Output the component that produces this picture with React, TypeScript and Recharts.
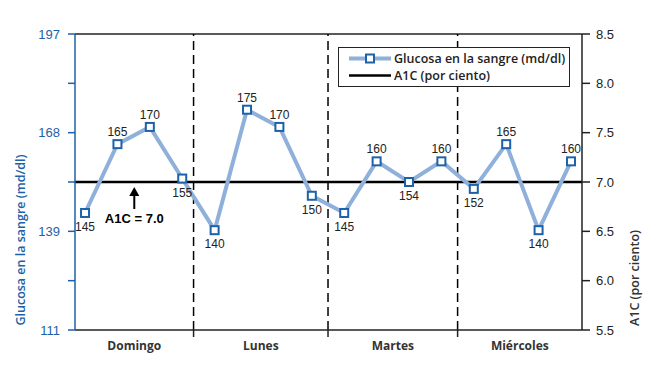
import {
  ComposedChart,
  Line,
  XAxis,
  YAxis,
  ReferenceLine,
  ReferenceDot,
  Legend,
  LabelList,
} from "recharts";

const days = ["Domingo", "Lunes", "Martes", "Miércoles"];
const glucose = [145, 165, 170, 155, 140, 175, 170, 150, 145, 160, 154, 160, 152, 165, 140, 160];
const a1cTarget = 7.0;
const leftTicks = [111, 125.33, 139.67, 154, 168.33, 182.67, 197];
const leftTickLabels = ["111", "", "139", "", "168", "", "197"];
const rightTicks = [5.5, 6.0, 6.5, 7.0, 7.5, 8.0, 8.5];
// day boundaries on the reading-index scale (outer two are the plot edges)
const dayBounds = [-0.31, 3.35, 7.5, 11.5, 15.34];
const labelSide = ["below", "above", "above", "below", "below", "above", "above", "below", "below", "above", "below", "above", "below", "above", "below", "above"];

const data = glucose.map((g, i) => ({ idx: i, glucose: g }));
const dividers = dayBounds.slice(1, -1);
const dayCenters = days.map((_, i) => (dayBounds[i] + dayBounds[i + 1]) / 2);
const xTicks = [...dayCenters, ...dividers].sort((a, b) => a - b);

const BLUE = "#1d62a8";
const LIGHT = "#8eb0da";
const INK = "#222";
const NUM_FONT = "'Liberation Sans', Arial, sans-serif";
const TXT_FONT = "'Open Sans', sans-serif";

const DayTick = (props: any) => {
  const { x, y, payload } = props;
  const i = dayCenters.indexOf(payload.value);
  if (i < 0) {
    return <line x1={x} x2={x} y1={y} y2={y + 7} stroke={INK} strokeWidth={1.5} />;
  }
  return (
    <text x={x} y={y + 20} textAnchor="middle" fontFamily={TXT_FONT} fontSize={12} fontWeight={700} fill="#333">
      {days[i]}
    </text>
  );
};

const SquareDot = (props: any) => {
  const { cx, cy, index } = props;
  return <rect key={index} x={cx - 4} y={cy - 4} width={8} height={8} fill="#fff" stroke={BLUE} strokeWidth={2} />;
};

const GlucoseLabel = (props: any) => {
  const { x, y, value, index } = props;
  const above = labelSide[index] === "above";
  return (
    <text x={x} y={above ? y - 8 : y + 18} textAnchor="middle" fontFamily={NUM_FONT} fontSize={12} fill={INK}>
      {value}
    </text>
  );
};

const ArrowNote = (props: any) => {
  const { cx, cy } = props;
  return (
    <g>
      <line x1={cx} x2={cx} y1={cy + 12} y2={cy + 27} stroke="#000" strokeWidth={2} />
      <polygon points={`${cx},${cy + 5} ${cx - 5},${cy + 14} ${cx + 5},${cy + 14}`} fill="#000" />
      <text x={cx} y={cy + 41} textAnchor="middle" fontFamily={NUM_FONT} fontSize={13} fontWeight={700} fill="#000">
        A1C = 7.0
      </text>
    </g>
  );
};

const LegendBox = () => (
  <div
    style={{
      width: 232,
      height: 40,
      boxSizing: "border-box",
      border: "1.5px solid #222",
      background: "#fff",
      padding: "2px 0 0 9px",
      fontFamily: TXT_FONT,
      fontSize: 12.5,
      fontWeight: 600,
      color: INK,
      lineHeight: "17px",
    }}
  >
    <div style={{ display: "flex", alignItems: "center" }}>
      <svg width={46} height={17}>
        <line x1={1} x2={43} y1={8.5} y2={8.5} stroke={LIGHT} strokeWidth={4} />
        <rect x={18} y={4.5} width={8} height={8} fill="#fff" stroke={BLUE} strokeWidth={2} />
      </svg>
      <span>Glucosa en la sangre (md/dl)</span>
    </div>
    <div style={{ display: "flex", alignItems: "center" }}>
      <svg width={46} height={17}>
        <line x1={1} x2={43} y1={8.5} y2={8.5} stroke="#000" strokeWidth={2.5} />
      </svg>
      <span>A1C (por ciento)</span>
    </div>
  </div>
);

export default function App() {
  return (
    <div style={{ position: "absolute", left: 0, top: 0, background: "#fff" }}>
      <ComposedChart width={660} height={376} data={data} margin={{ top: 34, right: 0, bottom: 0, left: 0 }}>
        <XAxis
          dataKey="idx"
          type="number"
          domain={[dayBounds[0], dayBounds[dayBounds.length - 1]]}
          allowDataOverflow
          ticks={xTicks}
          interval={0}
          tick={<DayTick />}
          tickSize={0}
          tickMargin={0}
          tickLine={false}
          axisLine={{ stroke: INK, strokeWidth: 1.5 }}
          height={46}
        />
        <YAxis
          yAxisId="left"
          domain={[111, 197]}
          ticks={leftTicks}
          interval={0}
          allowDataOverflow
          width={75}
          tickSize={7}
          tickMargin={8}
          tickFormatter={(_v: number, i: number) => leftTickLabels[i]}
          tick={{ fill: BLUE, fontSize: 13, fontFamily: NUM_FONT }}
          tickLine={{ stroke: BLUE, strokeWidth: 1.5 }}
          axisLine={{ stroke: BLUE, strokeWidth: 1.5 }}
          label={() => (
            <text
              x={20}
              y={240}
              transform="rotate(-90 20 240)"
              textAnchor="middle"
              dominantBaseline="central"
              fontFamily={TXT_FONT}
              fontSize={12.5}
              fontWeight={600}
              fill={BLUE}
            >
              Glucosa en la sangre (md/dl)
            </text>
          )}
        />
        <YAxis
          yAxisId="right"
          orientation="right"
          domain={[5.5, 8.5]}
          ticks={rightTicks}
          interval={0}
          allowDataOverflow
          width={78}
          tickSize={8}
          tickMargin={6}
          tickFormatter={(v: number) => v.toFixed(1)}
          tick={{ fill: INK, fontSize: 13, fontFamily: NUM_FONT }}
          tickLine={{ stroke: INK, strokeWidth: 1.5 }}
          axisLine={{ stroke: INK, strokeWidth: 1.5 }}
          label={() => (
            <text
              x={634}
              y={278}
              transform="rotate(-90 634 278)"
              textAnchor="middle"
              dominantBaseline="central"
              fontFamily={TXT_FONT}
              fontSize={12.5}
              fontWeight={600}
              fill="#333"
            >
              A1C (por ciento)
            </text>
          )}
        />
        <ReferenceLine yAxisId="right" y={8.5} stroke={INK} strokeWidth={1.5} />
        {dividers.map((d) => (
          <ReferenceLine key={d} yAxisId="left" x={d} stroke="#000" strokeWidth={1.5} strokeDasharray="9 5" />
        ))}
        <ReferenceLine yAxisId="right" y={a1cTarget} stroke="#000" strokeWidth={2.5} />
        <Line
          yAxisId="left"
          dataKey="glucose"
          name="Glucosa en la sangre (md/dl)"
          stroke={LIGHT}
          strokeWidth={4}
          dot={<SquareDot />}
          activeDot={false}
          isAnimationActive={false}
        >
          <LabelList dataKey="glucose" content={<GlucoseLabel />} />
        </Line>
        <ReferenceDot yAxisId="right" x={dayCenters[0]} y={a1cTarget} r={0} shape={<ArrowNote />} />
        <Legend
          layout="horizontal"
          verticalAlign="middle"
          align="center"
          content={<LegendBox />}
          wrapperStyle={{ left: 338, top: 47, width: 232, height: 40 }}
        />
      </ComposedChart>
    </div>
  );
}
